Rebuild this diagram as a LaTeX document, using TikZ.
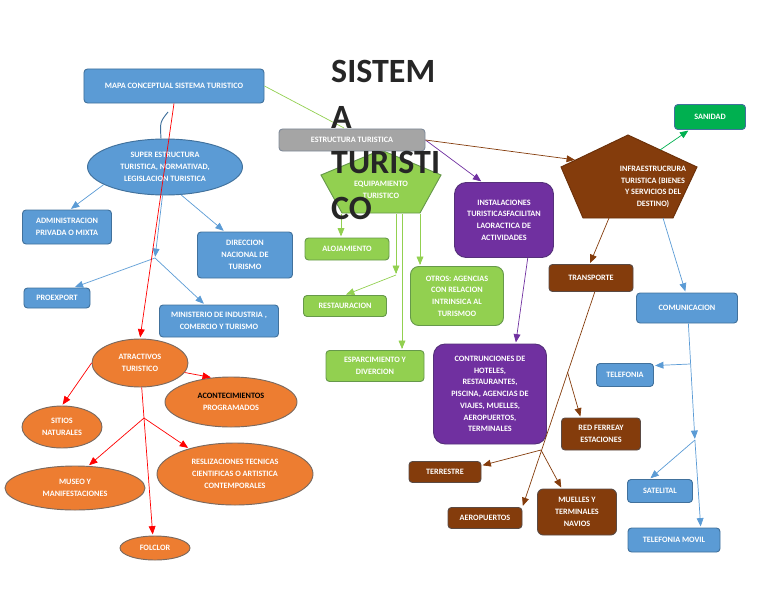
\documentclass[tikz,border=0pt]{standalone}
\usepackage{fontspec}
\setmainfont{Carlito}
\usepackage{tikz}
\usetikzlibrary{arrows,shapes.geometric}
\definecolor{azul}{HTML}{5B9BD5}
\definecolor{azulborde}{HTML}{41719C}
\definecolor{gris}{HTML}{A5A5A5}
\definecolor{grisborde}{HTML}{7F8A99}
\definecolor{naranja}{HTML}{ED7D31}
\definecolor{naranjaborde}{HTML}{7A6A60}
\definecolor{verde}{HTML}{92D050}
\definecolor{verdeborde}{HTML}{66994A}
\definecolor{morado}{HTML}{7030A0}
\definecolor{moradoborde}{HTML}{55307A}
\definecolor{cafe}{HTML}{843C0C}
\definecolor{cafeborde}{HTML}{5A4A44}
\definecolor{verdeosc}{HTML}{00B050}
\newcommand{\etiq}{\fontsize{7}{10}\selectfont\bfseries}

\tikzset{
  caja/.style={rectangle, rounded corners=3pt, line width=0.8pt, inner sep=1pt,
    align=center, text=white, font=\etiq},
  elipse/.style={ellipse, line width=0.8pt, inner sep=0pt, align=center,
    text=white, font=\etiq, fill=naranja, draw=naranjaborde},
  linea/.style={line width=0.6pt, shorten >=1pt, >=triangle 45}
}

\begin{document}
\begin{tikzpicture}[x=0.03cm,y=-0.03cm]
\useasboundingbox (0,0) rectangle (768,594);

% super estructura, lado izquierdo
\node[caja, fill=azul, draw=azulborde, minimum width=5.4cm, minimum height=1.02cm] (mapa) at (174,86) {MAPA CONCEPTUAL SISTEMA TURISTICO};
\node[elipse, fill=azul, draw=azulborde, minimum width=4.65cm, minimum height=1.68cm] (super) at (165,167) {SUPER ESTRUCTURA\\TURISTICA, NORMATIVAD,\\LEGISLACION TURISTICA};
\node[caja, fill=azul, draw=azulborde, minimum width=2.67cm, minimum height=1.02cm] (admin) at (67,227) {ADMINISTRACION\\PRIVADA O MIXTA};
\node[caja, fill=azul, draw=azulborde, minimum width=2.85cm, minimum height=1.38cm] (direccion) at (245,255) {DIRECCION\\NACIONAL DE\\TURISMO};
\node[caja, fill=azul, draw=azulborde, minimum width=1.98cm, minimum height=0.6cm] (proexport) at (57,298) {PROEXPORT};
\node[caja, fill=azul, draw=azulborde, minimum width=3.57cm, minimum height=0.96cm] (ministerio) at (219,321) {MINISTERIO DE INDUSTRIA ,\\COMERCIO Y TURISMO};

% atractivos
\node[elipse, minimum width=2.88cm, minimum height=1.44cm] (atractivos) at (140,363) {ATRACTIVOS\\TURISTICO};
\node[elipse, minimum width=3.96cm, minimum height=1.5cm] (acontecimientos) at (231,402) {{\color{black}ACONTECIMIENTOS}\\PROGRAMADOS};
\node[elipse, minimum width=2.4cm, minimum height=1.26cm] (sitios) at (62,427) {SITIOS\\NATURALES};
\node[elipse, minimum width=4.2cm, minimum height=1.32cm] (museo) at (75,488) {MUSEO Y\\MANIFESTACIONES};
\node[elipse, minimum width=4.68cm, minimum height=1.86cm] (realizaciones) at (235,474) {RESLIZACIONES TECNICAS\\CIENTIFICAS O ARTISTICA\\CONTEMPORALES};
\node[elipse, minimum width=2.1cm, minimum height=0.72cm] (folclor) at (155,548) {FOLCLOR};

% equipamiento
\draw[fill=verde, draw=verdeborde, line width=0.8pt] (321,175) -- (381,150) -- (441,175) -- (420,213) -- (342,213) -- cycle;
\node[font=\etiq, text=white, align=center] (equipamiento) at (381,190) {EQUIPAMIENTO\\TURISTICO};
\coordinate (eqA) at (341,214);
\coordinate (eqB) at (396,214);
\coordinate (eqC) at (402,214);
\coordinate (eqD) at (420,214);
\node[caja, fill=verde, draw=verdeborde, minimum width=2.52cm, minimum height=0.66cm] (alojamiento) at (347,249) {ALOJAMIENTO};
\node[caja, fill=verde, draw=verdeborde, minimum width=2.49cm, minimum height=0.63cm] (restauracion) at (345,306) {RESTAURACION};
\node[caja, fill=verde, draw=verdeborde, minimum width=2.94cm, minimum height=0.93cm] (esparcimiento) at (375,366) {ESPARCIMIENTO Y\\DIVERCION};
\node[caja, fill=verde, draw=verdeborde, rounded corners=7pt, minimum width=2.79cm, minimum height=1.77cm] (otros) at (457,296) {OTROS: AGENCIAS\\CON RELACION\\INTRINSICA AL\\TURISMOO};

\node[caja, fill=gris, draw=grisborde, minimum width=4.38cm, minimum height=0.66cm] (estructura) at (352,140) {ESTRUCTURA TURISTICA};

% instalaciones
\node[caja, fill=morado, draw=moradoborde, rounded corners=10pt, minimum width=2.97cm, minimum height=2.25cm] (instalaciones) at (504,220) {INSTALACIONES\\TURISTICASFACILITAN\\LAORACTICA DE\\ACTIVIDADES};
\node[caja, fill=morado, draw=moradoborde, rounded corners=10pt, minimum width=3.39cm, minimum height=3cm] (contrunciones) at (490,394) {CONTRUNCIONES DE\\HOTELES,\\RESTAURANTES,\\PISCINA, AGENCIAS DE\\VIAJES, MUELLES,\\AEROPUERTOS,\\TERMINALES};

% infraestructura
\draw[fill=cafe, draw=cafe!80!black, line width=0.8pt] (561,167) -- (628,135) -- (697,167) -- (673,218) -- (583,218) -- cycle;
\node[font=\etiq, text=white, align=center] (infra) at (653,187) {INFRAESTRUCRURA\\TURISTICA (BIENES\\Y SERVICIOS DEL\\DESTINO)};
\coordinate (infraIzq) at (576,160);
\coordinate (infraDer) at (660,150);
\coordinate (infraAbA) at (609,218);
\coordinate (infraAbB) at (663,218);
\node[caja, fill=verdeosc, draw=azulborde, minimum width=2.13cm, minimum height=0.75cm] (sanidad) at (710,117) {SANIDAD};
\node[caja, fill=cafe, draw=cafeborde, minimum width=2.52cm, minimum height=0.81cm] (transporte) at (591,278) {TRANSPORTE};
\node[caja, fill=cafe, draw=cafeborde, minimum width=2.37cm, minimum height=0.96cm] (red) at (601,434) {RED FERREAY\\ESTACIONES};
\node[caja, fill=cafe, draw=cafeborde, minimum width=2.16cm, minimum height=0.63cm] (terrestre) at (445,472) {TERRESTRE};
\node[caja, fill=cafe, draw=cafeborde, minimum width=2.22cm, minimum height=0.63cm] (aeropuertos) at (485,518) {AEROPUERTOS};
\node[caja, fill=cafe, draw=cafeborde, rounded corners=5pt, minimum width=2.37cm, minimum height=1.38cm] (muelles) at (577,512) {MUELLES Y\\TERMINALES\\NAVIOS};
\node[caja, fill=azul, draw=azulborde, minimum width=3.03cm, minimum height=0.9cm] (comunicacion) at (687,308) {COMUNICACION};
\node[caja, fill=azul, draw=azulborde, minimum width=1.71cm, minimum height=0.69cm] (telefonia) at (625,375) {TELEFONIA};
\node[caja, fill=azul, draw=azulborde, minimum width=1.95cm, minimum height=0.69cm] (satelital) at (660,491) {SATELITAL};
\node[caja, fill=azul, draw=azulborde, minimum width=2.76cm, minimum height=0.72cm] (movil) at (674,540) {TELEFONIA MOVIL};

% conectores
\coordinate (curva) at (168,112);
\coordinate (nodoSuper) at (155,258);
\coordinate (nodoAtr) at (144,418);
\coordinate (nodoEq) at (396,275);
\coordinate (nodoRed) at (567.5,372);
\coordinate (nodoTer) at (541,450);
\coordinate (nodoTel) at (690.4,364);
\coordinate (nodoSat) at (694.9,440);

\draw[linea, verde] (mapa.east) -- ([xshift=-0.21cm]estructura.north);
\draw[line width=0.8pt, azulborde] (curva) .. controls (160,122) .. ([xshift=-0.12cm]super.north);
\draw[linea, azul, ->] (super.196) -- (admin.80);
\draw[linea, azul, ->] (super.-60) -- (direccion.131);
\draw[linea, azul, ->] (super.-95) -- (nodoSuper);
\draw[linea, azul, ->] (nodoSuper) -- (proexport.32);
\draw[linea, azul, ->] (nodoSuper) -- (ministerio.131);

\draw[linea, red, ->] (mapa.south) -- (atractivos.north);
\draw[linea, red, ->] (atractivos.-12) -- (acontecimientos.128);
\draw[linea, red, ->] (atractivos.west) -- (sitios.north);
\draw[linea, red, ->] (atractivos.-86) -- (folclor.100);
\draw[linea, red, ->] (nodoAtr) -- (museo.59);
\draw[linea, red, ->] (nodoAtr) -- (realizaciones.151);

\draw[linea, verde, ->] (eqA) -- (eqA |- alojamiento.north);
\draw[linea, verde, ->] (eqB) -- (nodoEq);
\draw[linea, verde, ->] (nodoEq) -- (restauracion.north);
\draw[linea, verde, ->] (eqC) -- (eqC |- esparcimiento.north);
\draw[linea, verde, ->] (eqD) -- (eqD |- otros.north);

\draw[linea, morado, ->] (estructura.east) -- (instalaciones.120);
\draw[linea, morado, ->] (instalaciones.-58) -- (contrunciones.63);
\draw[linea, cafe, ->] (estructura.east) -- (infraIzq);

\draw[linea, verdeosc, ->] (infraDer) -- (sanidad.-148);
\draw[linea, cafe, ->] (infraAbA) -- (transporte.95);
\draw[linea, azul, ->] (infraAbB) -- (comunicacion.95);

\draw[linea, cafe, ->] (transporte.-75) -- (aeropuertos.north east);
\draw[linea, cafe, ->] (nodoRed) -- (red.141);
\draw[linea, cafe, ->] (nodoTer) -- (terrestre.10);
\draw[linea, cafe, ->] (nodoTer) -- (muelles.123);

\draw[linea, azul, ->] (comunicacion.-85) -- (nodoSat);
\draw[linea, azul, ->] (nodoSat) -- (movil.25);
\draw[linea, azul, ->] (nodoTel) -- (telefonia.18);
\draw[linea, azul, ->] (nodoSat) -- (satelital.131);

% titulo
\node[anchor=north west, inner sep=0pt, align=left, text=black!85,
  font=\fontsize{29}{39}\selectfont\bfseries] (titulo) at (331,60) {SISTEM\\A\\TURISTI\\CO};
\end{tikzpicture}
\end{document}
